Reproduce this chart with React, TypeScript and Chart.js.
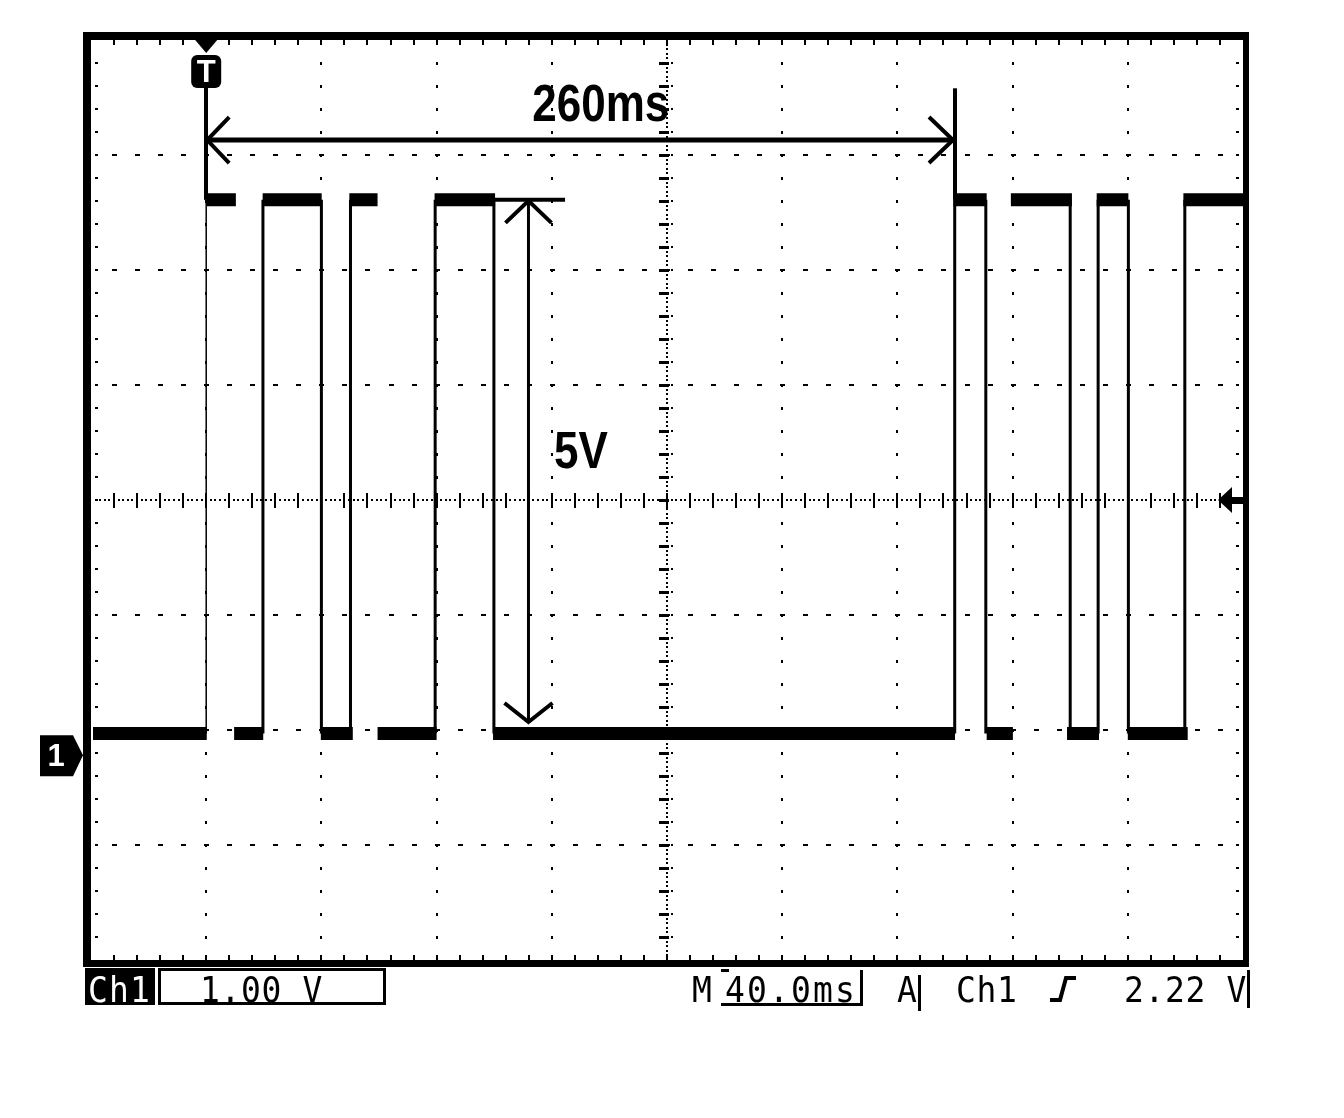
import { useEffect, useRef } from "react";
import { Chart, registerables } from "chart.js";

Chart.register(...registerables);

const W = 1344;
const H = 1118;

// ---------- axes (oscilloscope screen: 10 × 8 divisions) ----------
const TIME_MIN = -40; // ms
const TIME_MAX = 360; // ms
const TIME_PER_DIV = 40; // M 40.0ms
const VOLT_MIN = -1.78; // V (ground = 0 V)
const VOLT_MAX = 6.22; // V
const VOLT_PER_DIV = 1; // 1.00 V

// ---------- signal ----------
const LOW_V = 0.19;
const HIGH_V = 4.83;
const TRIGGER_LEVEL_V = 2.22;
const TRIGGER_TIME_MS = 0;

// visible pieces of the high level (start ms, end ms)
const highSegments: [number, number][] = [
  [0, 10.3],
  [19.6, 40.1],
  [49.7, 59.5],
  [79.3, 100.3],
  [259.5, 271],
  [279.4, 300.6],
  [309.2, 320.2],
  [339.3, 360],
];
// visible pieces of the low level (start ms, end ms)
const lowSegments: [number, number][] = [
  [-39.3, 0.2],
  [9.7, 19.8],
  [39.8, 50.9],
  [59.5, 80],
  [99.6, 260],
  [271, 280.1],
  [298.9, 310],
  [320, 340.8],
];
const risingEdges = [19.7, 50.1, 79.5, 259.9, 309.7, 339.8];
const fallingEdges = [40, 99.9, 270.7, 300, 320.2];
const triggerEdges = [0];

// ---------- measurement annotations ----------
const PERIOD_MARK_MS = [0, 260];
const PERIOD_LABEL = "260ms";
const PERIOD_ARROW_V = 5.35;
const PERIOD_CURSOR_TOP_V = 5.8;
const PERIOD_LABEL_POS = [137, 5.52]; // ms, V

const AMPLITUDE_MARK_MS = 111.9;
const AMPLITUDE_ARROW_V = [0.29, 4.83];
const AMPLITUDE_CAP_MS = [100, 124.6];
const AMPLITUDE_LABEL = "5V";
const AMPLITUDE_LABEL_POS = [130.1, 2.5]; // ms, V

// ---------- status line ----------
const STATUS_CHANNEL = "Ch1";
const STATUS_VOLTS_DIV = "1.00 V";
const STATUS_TIME_PREFIX = "M";
const STATUS_TIME_DIV = "40.0ms";
const STATUS_ACQ = "A";
const STATUS_TRIG_SRC = "Ch1";
const STATUS_TRIG_LEVEL = "2.22 V";

const segData = (segs: [number, number][], v: number) =>
  segs.flatMap(([a, b]) => [
    { x: a, y: v },
    { x: b, y: v },
    { x: b, y: null as any },
  ]);
const edgeData = (ts: number[]) =>
  ts.flatMap((t) => [
    { x: t, y: LOW_V },
    { x: t, y: HIGH_V },
    { x: t, y: null as any },
  ]);

const px = (ctx: CanvasRenderingContext2D, x: number, y: number, w: number, h: number) =>
  ctx.fillRect(Math.round(x), Math.round(y), w, h);

const gridPlugin = {
  id: "scopeGrid",
  beforeDatasetsDraw(chart: any) {
    const { ctx, chartArea: a, scales } = chart;
    const xs = scales.x;
    const ys = scales.y;
    ctx.save();
    ctx.fillStyle = "#000";
    const minorT = TIME_PER_DIV / 5;
    const minorV = VOLT_PER_DIV / 5;
    const nDivT = Math.round((TIME_MAX - TIME_MIN) / TIME_PER_DIV);
    const nDivV = Math.round((VOLT_MAX - VOLT_MIN) / VOLT_PER_DIV);
    const nT = nDivT * 5;
    const nV = nDivV * 5;
    const xAt = (t: number) => xs.getPixelForValue(t);
    const yAt = (v: number) => ys.getPixelForValue(v);

    // vertical graticule lines (dotted)
    for (let k = 1; k < nDivT; k++) {
      if (k === nDivT / 2) continue;
      const x = xAt(TIME_MIN + k * TIME_PER_DIV);
      for (let j = 1; j < nV; j++) px(ctx, x - 1, yAt(VOLT_MIN + j * minorV) - 1, 2, 3);
    }
    // horizontal graticule lines (dashes)
    for (let k = 1; k < nDivV; k++) {
      if (k === nDivV / 2) continue;
      const y = yAt(VOLT_MIN + k * VOLT_PER_DIV);
      for (let j = 1; j < nT; j++) px(ctx, xAt(TIME_MIN + j * minorT) - 2, y - 1, 5, 2);
    }
    // minor ticks along the frame
    for (let j = 1; j < nT; j++) {
      const x = xAt(TIME_MIN + j * minorT);
      px(ctx, x - 1, a.top, 2, 5);
      px(ctx, x - 1, a.bottom - 5, 2, 5);
    }
    for (let j = 1; j < nV; j++) {
      const y = yAt(VOLT_MIN + j * minorV);
      px(ctx, a.left + 4, y - 1, 3, 2);
      px(ctx, a.right - 7, y - 1, 3, 2);
    }
    // centre cross with fine dots and ticks
    const cx = xAt((TIME_MIN + TIME_MAX) / 2);
    const cy = yAt((VOLT_MIN + VOLT_MAX) / 2);
    for (let j = 1; j < nV * 5; j++) px(ctx, cx - 1, yAt(VOLT_MIN + (j * minorV) / 5) - 1, 2, 2);
    for (let j = 1; j < nV; j++) {
      const y = yAt(VOLT_MIN + j * minorV);
      px(ctx, cx - 8, y - 1, 10, 3);
      px(ctx, cx + 4, y - 1, 2, 2);
    }
    for (let j = 1; j < nT * 5; j++) px(ctx, xAt(TIME_MIN + (j * minorT) / 5) - 1, cy - 1, 2, 2);
    for (let j = 1; j < nT; j++) {
      const x = xAt(TIME_MIN + j * minorT);
      px(ctx, x - 1, cy - 7, 2, 15);
    }
    ctx.restore();
  },
};

function line(ctx: CanvasRenderingContext2D, pts: number[][], w: number) {
  ctx.lineWidth = w;
  ctx.beginPath();
  ctx.moveTo(pts[0][0], pts[0][1]);
  for (let i = 1; i < pts.length; i++) ctx.lineTo(pts[i][0], pts[i][1]);
  ctx.stroke();
}

function stretchedText(
  ctx: CanvasRenderingContext2D,
  text: string,
  cx: number,
  baseline: number,
  font: string,
  sy: number
) {
  ctx.save();
  ctx.translate(cx, baseline);
  ctx.scale(1, sy);
  ctx.font = font;
  ctx.textAlign = "center";
  ctx.textBaseline = "alphabetic";
  ctx.fillText(text, 0, 0);
  ctx.restore();
}

function monoText(ctx: CanvasRenderingContext2D, s: string, x: number, baseline: number, pitch: number) {
  for (let i = 0; i < s.length; i++) {
    ctx.save();
    ctx.translate(x + i * pitch, baseline);
    ctx.scale(1, 1.1);
    ctx.fillText(s[i], 0, 0);
    ctx.restore();
  }
}

const markerPlugin = {
  id: "scopeMarkers",
  afterDatasetsDraw(chart: any) {
    const { ctx, chartArea: a, scales } = chart;
    const xAt = (t: number) => scales.x.getPixelForValue(t);
    const yAt = (v: number) => scales.y.getPixelForValue(v);
    ctx.save();
    ctx.fillStyle = "#000";
    ctx.strokeStyle = "#000";
    ctx.lineCap = "butt";
    ctx.lineJoin = "miter";

    // trigger position marker "T"
    const x0 = xAt(TRIGGER_TIME_MS);
    const yHigh = yAt(HIGH_V);
    ctx.beginPath();
    ctx.moveTo(x0 - 11, a.top);
    ctx.lineTo(x0 + 11, a.top);
    ctx.lineTo(x0, a.top + 13);
    ctx.closePath();
    ctx.fill();
    ctx.beginPath();
    (ctx as any).roundRect(x0 - 15, a.top + 15, 30, 33, 6);
    ctx.fill();
    ctx.fillRect(Math.round(x0) - 2, a.top + 47, 4, yHigh - (a.top + 47));
    ctx.fillStyle = "#fff";
    ctx.font = 'bold 31px "Liberation Sans", Arial, sans-serif';
    ctx.textAlign = "center";
    ctx.fillText("T", x0, a.top + 42);
    ctx.fillStyle = "#000";

    // ground marker "1"
    const yg = yAt(0);
    ctx.beginPath();
    ctx.moveTo(a.left - 51, yg - 20);
    ctx.lineTo(a.left - 18, yg - 20);
    ctx.lineTo(a.left - 8, yg);
    ctx.lineTo(a.left - 18, yg + 21);
    ctx.lineTo(a.left - 51, yg + 21);
    ctx.closePath();
    ctx.fill();
    ctx.fillStyle = "#fff";
    ctx.font = 'bold 31px "Liberation Sans", Arial, sans-serif';
    ctx.fillText("1", a.left - 35, yg + 11);
    ctx.fillStyle = "#000";

    // trigger level marker
    const yt = yAt(TRIGGER_LEVEL_V);
    ctx.beginPath();
    ctx.moveTo(a.right - 25, yt);
    ctx.lineTo(a.right - 11, yt - 13);
    ctx.lineTo(a.right - 11, yt + 13);
    ctx.closePath();
    ctx.fill();
    ctx.fillRect(a.right - 12, Math.round(yt) - 3, 12, 7);

    // 260 ms period measurement
    const xa = xAt(PERIOD_MARK_MS[0]);
    const xb = xAt(PERIOD_MARK_MS[1]);
    const ya = yAt(PERIOD_ARROW_V);
    line(ctx, [[xa, ya], [xb, ya]], 5);
    line(ctx, [[xa + 23, ya - 23], [xa + 1, ya], [xa + 23, ya + 23]], 4);
    line(ctx, [[xb - 26, ya - 23], [xb - 2, ya], [xb - 26, ya + 23]], 4);
    line(ctx, [[xb, yAt(PERIOD_CURSOR_TOP_V)], [xb, yHigh]], 4);
    stretchedText(
      ctx,
      PERIOD_LABEL,
      xAt(PERIOD_LABEL_POS[0]),
      yAt(PERIOD_LABEL_POS[1]),
      'bold 44px "Liberation Sans", Arial, sans-serif',
      1.17
    );

    // 5 V amplitude measurement
    const xm = xAt(AMPLITUDE_MARK_MS);
    const yl = yAt(AMPLITUDE_ARROW_V[0]);
    const yh = yAt(AMPLITUDE_ARROW_V[1]);
    line(ctx, [[xAt(AMPLITUDE_CAP_MS[0]), yh], [xAt(AMPLITUDE_CAP_MS[1]), yh]], 4);
    line(ctx, [[xm, yh], [xm, yl]], 3);
    line(ctx, [[xm - 23, yh + 23], [xm, yh + 1], [xm + 23, yh + 23]], 4);
    line(ctx, [[xm - 24, yl - 19], [xm, yl], [xm + 24, yl - 19]], 4);
    stretchedText(
      ctx,
      AMPLITUDE_LABEL,
      xAt(AMPLITUDE_LABEL_POS[0]),
      yAt(AMPLITUDE_LABEL_POS[1]),
      'bold 44px "Liberation Sans", Arial, sans-serif',
      1.17
    );
    ctx.restore();
  },
  afterDraw(chart: any) {
    const { ctx, chartArea: a } = chart;
    ctx.save();
    ctx.fillStyle = "#000";
    ctx.strokeStyle = "#000";
    // frame
    const fw = a.right - a.left;
    const fh = a.bottom - a.top;
    ctx.fillRect(a.left - 8, a.top - 8, 8, fh + 15);
    ctx.fillRect(a.right, a.top - 8, 6, fh + 15);
    ctx.fillRect(a.left - 8, a.top - 8, fw + 14, 8);
    ctx.fillRect(a.left - 8, a.bottom, fw + 14, 7);

    // status line
    const top = a.bottom + 8;
    const base = a.bottom + 42;
    ctx.font = '33px "DejaVu Sans Mono", monospace';
    ctx.textAlign = "left";
    ctx.textBaseline = "alphabetic";
    ctx.fillRect(85, top, 70, 37);
    ctx.fillStyle = "#fff";
    monoText(ctx, STATUS_CHANNEL, 88, base, 21);
    ctx.fillStyle = "#000";
    ctx.lineWidth = 3;
    ctx.strokeRect(159.5, top + 1.5, 225, 34);
    monoText(ctx, STATUS_VOLTS_DIV, 200, base, 20.5);

    monoText(ctx, STATUS_TIME_PREFIX, 692, base, 21);
    monoText(ctx, STATUS_TIME_DIV, 725, base, 22);
    ctx.fillRect(721, top + 35, 142, 3);
    ctx.fillRect(860, top + 2, 3, 36);
    ctx.fillRect(721, top + 1, 8, 3);

    monoText(ctx, STATUS_ACQ, 897, base, 21);
    ctx.fillRect(918, top + 7, 3, 36);
    monoText(ctx, STATUS_TRIG_SRC, 956, base, 20.5);
    // rising-edge symbol
    line(ctx, [[1050, base - 2], [1060, base - 2], [1066, base - 24], [1076, base - 24]], 4);
    monoText(ctx, STATUS_TRIG_LEVEL, 1124, base, 20.5);
    ctx.fillRect(1247, top + 2, 3, 38);
    ctx.restore();
  },
};

export default function App() {
  const ref = useRef<HTMLCanvasElement | null>(null);
  useEffect(() => {
    const canvas = ref.current;
    if (!canvas) return;
    const common = {
      pointRadius: 0,
      borderColor: "#000",
      backgroundColor: "#000",
      fill: false,
      tension: 0,
      spanGaps: false,
      borderCapStyle: "butt",
      borderJoinStyle: "miter",
    };
    const chart = new Chart(canvas, {
      type: "line",
      data: {
        datasets: [
          { ...common, label: "high", data: segData(highSegments, HIGH_V), borderWidth: 13 },
          { ...common, label: "low", data: segData(lowSegments, LOW_V), borderWidth: 13 },
          { ...common, label: "rising", data: edgeData(risingEdges), borderWidth: 3 },
          { ...common, label: "falling", data: edgeData(fallingEdges), borderWidth: 3 },
          { ...common, label: "trigger", data: edgeData(triggerEdges), borderWidth: 1.5 },
        ] as any,
      },
      options: {
        animation: false,
        responsive: false,
        devicePixelRatio: 1,
        events: [],
        layout: { padding: { left: 91, right: W - 1243, top: 40, bottom: H - 960 } },
        scales: {
          x: { type: "linear", min: TIME_MIN, max: TIME_MAX, display: false },
          y: { type: "linear", min: VOLT_MIN, max: VOLT_MAX, display: false },
        },
        plugins: { legend: { display: false }, tooltip: { enabled: false } },
      } as any,
      plugins: [gridPlugin, markerPlugin],
    });
    return () => chart.destroy();
  }, []);
  return (
    <div style={{ position: "absolute", left: 0, top: 0, width: W, height: H, background: "#fff" }}>
      <canvas ref={ref} width={W} height={H} style={{ display: "block", width: W, height: H }} />
    </div>
  );
}
